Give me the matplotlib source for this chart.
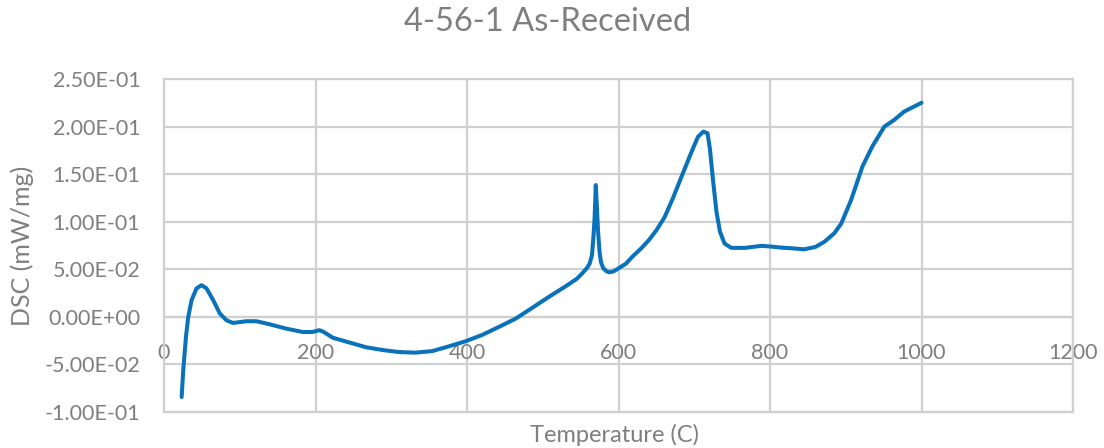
import matplotlib
matplotlib.use("Agg")
import matplotlib.pyplot as plt
from matplotlib.ticker import FuncFormatter, FixedLocator

# DSC trace: temperature (C) and heat flow (mW/mg)
temperature = [23.3, 25.4, 29, 32, 36.4, 43, 49.6, 56, 65, 73.7, 82.5, 91, 100, 108.8,
               122, 139.5, 161, 183, 196, 205, 210, 215, 223, 245, 267, 290, 310, 332,
               354, 376, 398, 420, 442, 464, 486, 508, 530, 545, 552, 558, 562, 565,
               567, 568.5, 570, 571.5, 573, 575, 577, 580, 584, 588, 594, 600, 610,
               618, 630, 640, 650, 661, 672, 683, 696.5, 705, 712, 717.5, 720.6, 725,
               729.4, 734, 740, 749, 767, 780, 788.5, 800, 815, 830, 845, 860, 872,
               885, 894, 907, 922, 935, 951, 964, 977, 990, 1000]
dsc = [-0.0843, -0.056, -0.021, 0.000, 0.0175, 0.030, 0.0333, 0.030, 0.0175, 0.0035,
       -0.0036, -0.0064, -0.0055, -0.0046, -0.0046, -0.0078, -0.0123, -0.0159, -0.0159,
       -0.014, -0.0155, -0.018, -0.022, -0.027, -0.032, -0.035, -0.037, -0.0376, -0.036,
       -0.031, -0.0257, -0.019, -0.0106, -0.002, 0.0094, 0.021, 0.032, 0.040, 0.0456,
       0.051, 0.056, 0.065, 0.085, 0.105, 0.1385, 0.115, 0.090, 0.068, 0.057, 0.051,
       0.048, 0.0468, 0.048, 0.051, 0.056, 0.063, 0.072, 0.0806, 0.091, 0.105, 0.125,
       0.147, 0.1736, 0.1894, 0.1947, 0.193, 0.177, 0.142, 0.110, 0.0894, 0.077, 0.0725,
       0.0725, 0.0738, 0.0746, 0.074, 0.0728, 0.072, 0.071, 0.0735, 0.079, 0.088, 0.098,
       0.1227, 0.158, 0.179, 0.200, 0.207, 0.2157, 0.221, 0.225]

x_ticks = [0, 200, 400, 600, 800, 1000, 1200]
y_ticks = [-0.10, -0.05, 0.00, 0.05, 0.10, 0.15, 0.20, 0.25]

title = "4-56-1 As-Received"
x_label = "Temperature (C)"
y_label = "DSC (mW/mg)"

plt.rcParams['font.family'] = ['Lato', 'DejaVu Sans']

grid_color = "#D0D0D0"
text_color = "#7F7F7F"
fig = plt.figure(figsize=(11.04, 4.48), dpi=100)
ax = fig.add_axes([164 / 1104, 36 / 448, 909 / 1104, 333 / 448])

ax.plot(temperature, dsc, color="#0A72BA", linewidth=2.9, solid_capstyle="round",
        solid_joinstyle="round", zorder=3)

ax.set_xlim(0, 1200)
ax.set_ylim(-0.10, 0.25)
ax.xaxis.set_major_locator(FixedLocator(x_ticks))
ax.yaxis.set_major_locator(FixedLocator(y_ticks))


def sci_fmt(v, pos):
    v = round(v, 6)
    if v == 0:
        v = 0.0
    return "{:.2E}".format(v)


ax.yaxis.set_major_formatter(FuncFormatter(sci_fmt))
ax.grid(True, color=grid_color, linewidth=1.6, zorder=0)

# horizontal axis crosses at zero, labels sit just below it
ax.spines['bottom'].set_position(('data', 0))
for side in ('bottom', 'left', 'right', 'top'):
    ax.spines[side].set_color(grid_color)
    ax.spines[side].set_linewidth(1.6)
# outer frame bottom edge
ax.axhline(-0.10, color=grid_color, linewidth=1.6, zorder=0, clip_on=False)

ax.tick_params(axis='both', length=0, colors=text_color, labelsize=15.5)
ax.tick_params(axis='x', pad=19)
ax.tick_params(axis='y', pad=17)

fig.text(547.5 / 1104, 1 - 22 / 448, title, fontsize=23.5, color=text_color,
         ha='center', va='center')
ax.set_xlabel(x_label, fontsize=17, color=text_color)
ax.xaxis.set_label_coords(0.4956, -0.036)
ax.set_ylabel(y_label, fontsize=18, color=text_color, va='center')
ax.yaxis.set_label_coords(-0.156, 0.5)

fig.savefig("out.png", dpi=100)
